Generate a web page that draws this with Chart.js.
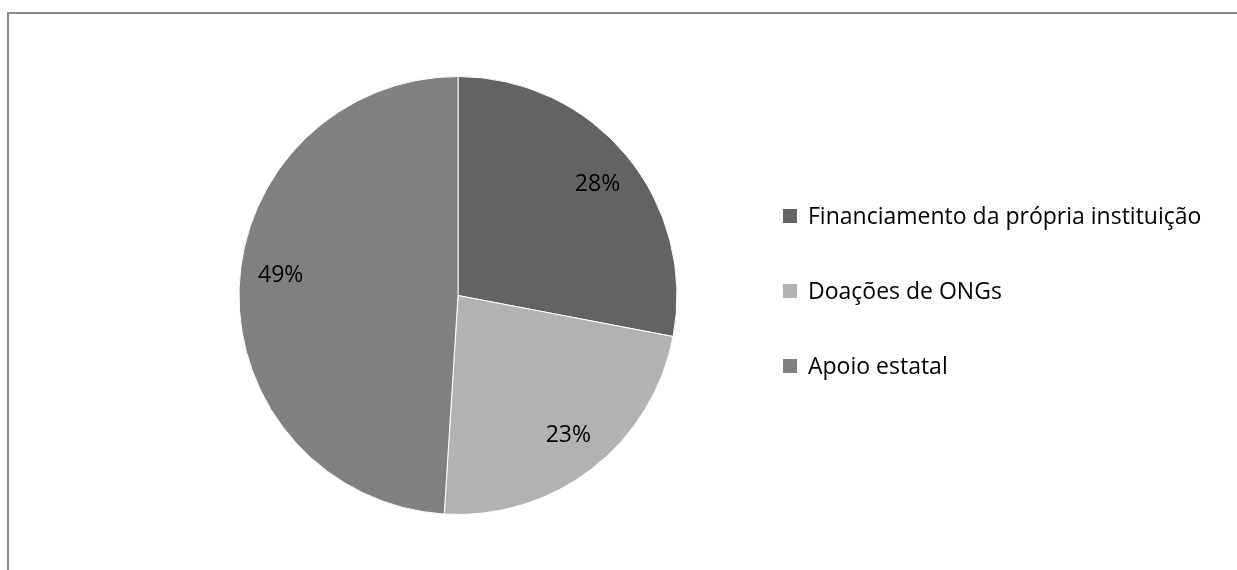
<!DOCTYPE html>
<html>
<head>
<meta charset="utf-8">
<script src="https://cdn.jsdelivr.net/npm/chart.js@4/dist/chart.umd.min.js"></script>
<style>
  html, body { margin: 0; padding: 0; background: #fff; }
  .frame {
    position: absolute;
    left: 7px;
    top: 12px;
    width: 1240px;
    height: 570px;
    border-top: 2px solid #888;
    border-left: 2px solid #888;
  }
  .chartBox {
    position: absolute;
    left: 0;
    top: 0;
    width: 1237px;
    height: 570px;
  }
</style>
</head>
<body>
<div class="frame"></div>
<div class="chartBox"><canvas id="myChart"></canvas></div>
<script>
const categories = ["Financiamento da própria instituição", "Doações de ONGs", "Apoio estatal"];
const shares = [28, 23, 49];
const sliceColors = ["#636363", "#b2b2b2", "#808080"];

// percent labels inside each slice
const sliceLabels = {
  id: "sliceLabels",
  afterDatasetsDraw(chart, args, opts) {
    const ctx = chart.ctx;
    const meta = chart.getDatasetMeta(0);
    ctx.save();
    ctx.font = "23px 'Open Sans'";
    ctx.fillStyle = "#000";
    ctx.textAlign = "center";
    ctx.textBaseline = "middle";
    meta.data.forEach((arc, i) => {
      const shift = (opts.angleShift[i] || 0) * Math.PI / 180;
      const mid = (arc.startAngle + arc.endAngle) / 2 + shift;
      const r = arc.outerRadius * opts.radius;
      ctx.fillText(chart.data.datasets[0].data[i] + "%", arc.x + Math.cos(mid) * r, arc.y + Math.sin(mid) * r);
    });
    ctx.restore();
  }
};

// legend stacked on the right
const sideLegend = {
  id: "sideLegend",
  afterDraw(chart, args, opts) {
    const ctx = chart.ctx;
    const ds = chart.data.datasets[0];
    ctx.save();
    ctx.font = "23px 'Open Sans'";
    ctx.textBaseline = "middle";
    ctx.textAlign = "left";
    chart.data.labels.forEach((label, i) => {
      const y = opts.top + i * opts.step;
      ctx.fillStyle = ds.backgroundColor[i];
      ctx.fillRect(opts.left, y - 7, 14, 14);
      ctx.fillStyle = "#000";
      ctx.fillText(label, opts.left + 25, y + 1);
    });
    ctx.restore();
  }
};

new Chart(document.getElementById("myChart"), {
  type: "pie",
  data: {
    labels: categories,
    datasets: [
      {
        data: shares,
        backgroundColor: sliceColors,
        borderColor: "#ffffff",
        borderWidth: 1,
      },
    ],
  },
  options: {
    responsive: true,
    maintainAspectRatio: false,
    animation: false,
    layout: {
      padding: { top: 76, bottom: 55, left: 238, right: 559 },
    },
    plugins: {
      legend: { display: false },
      tooltip: { enabled: false },
      sliceLabels: { radius: 0.815, angleShift: [1, -0.4, 4.8] },
      sideLegend: { left: 783, top: 216, step: 75 },
    },
  },
  plugins: [sliceLabels, sideLegend],
});
</script>
</body>
</html>
